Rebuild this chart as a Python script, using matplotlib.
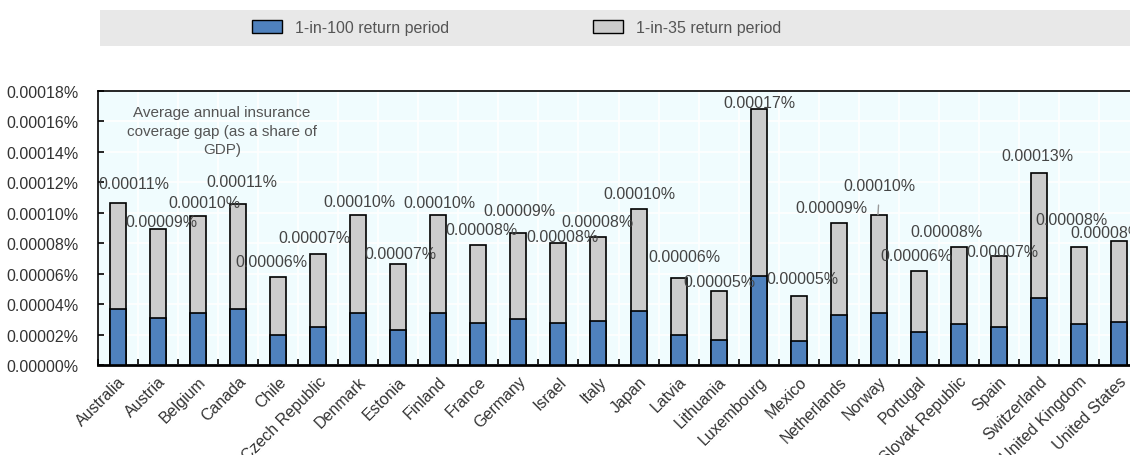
import matplotlib

matplotlib.use("Agg")
import matplotlib.pyplot as plt
import numpy as np
from matplotlib.patches import Patch, Rectangle
from matplotlib.ticker import FuncFormatter, MultipleLocator

plt.rcParams["font.family"] = ["Liberation Sans", "DejaVu Sans"]

# ---- data (share of GDP, in %) ----
countries = [
    "Australia", "Austria", "Belgium", "Canada", "Chile", "Czech Republic",
    "Denmark", "Estonia", "Finland", "France", "Germany", "Israel", "Italy",
    "Japan", "Latvia", "Lithuania", "Luxembourg", "Mexico", "Netherlands",
    "Norway", "Portugal", "Slovak Republic", "Spain", "Switzerland",
    "United Kingdom", "United States",
]
rp35 = np.array([
    10.63, 8.96, 9.77, 10.60, 5.79, 7.26, 9.83, 6.64, 9.83, 7.88, 8.69, 8.03,
    8.38, 10.25, 5.70, 4.84, 16.81, 4.51, 9.33, 9.88, 6.20, 7.72, 7.15, 12.61,
    7.77, 8.12,
]) * 1e-5
rp100 = np.array([
    3.70, 3.10, 3.39, 3.70, 2.00, 2.51, 3.39, 2.33, 3.41, 2.75, 3.01, 2.79,
    2.90, 3.56, 1.98, 1.67, 5.87, 1.56, 3.26, 3.43, 2.16, 2.68, 2.51, 4.40,
    2.71, 2.84,
]) * 1e-5
label_35 = "1-in-35 return period"
label_100 = "1-in-100 return period"
note = "Average annual insurance\ncoverage gap (as a share of\nGDP)"

# where each value label sits (x in category units, y in axis units x1e-5)
label_xy = [
    (0.40, 11.95), (1.075, 9.44), (2.15, 10.69), (3.10, 12.08), (3.825, 6.80),
    (4.90, 8.38), (6.025, 10.76), (7.05, 7.33), (8.025, 10.69), (9.075, 8.91),
    (10.025, 10.17), (11.10, 8.45), (11.975, 9.44), (13.025, 11.29),
    (14.15, 7.13), (15.025, 5.48), (16.025, 17.23), (17.10, 5.68),
    (17.825, 10.36), (19.025, 11.82), (19.95, 7.19), (20.70, 8.78),
    (22.10, 7.46), (22.975, 13.73), (23.825, 9.57), (24.70, 8.71),
]
leader = {19}  # labels joined to their bar by a short line

BLUE = "#4F81BD"
GREY = "#CCCCCC"
BG = "#F0FCFE"
TXT = "#444444"

W, H = 1130, 456
fig = plt.figure(figsize=(W / 100, H / 100), dpi=100)
ax = fig.add_axes([98 / W, 1 - 366 / H, 1041 / W, 274 / H])
ax.set_facecolor(BG)

x = np.arange(len(countries))
ax.bar(x, rp35, width=0.4, color=GREY, edgecolor="black", linewidth=1.2, zorder=3)
ax.bar(x, rp100, width=0.4, color=BLUE, edgecolor="black", linewidth=1.2, zorder=4)

for i, (v, (lx, ly)) in enumerate(zip(rp35, label_xy)):
    txt = f"{v:.5f}%"
    if i in leader:
        ax.annotate(
            txt, xy=(i - 0.02, v), xytext=(lx, ly * 1e-5),
            ha="center", va="center", fontsize=11.5, color=TXT, zorder=6,
            arrowprops=dict(arrowstyle="-", color="#999999", lw=1.0,
                            shrinkA=7, shrinkB=0),
        )
    else:
        ax.text(lx, ly * 1e-5, txt, ha="center", va="center", fontsize=11.5,
                color=TXT, zorder=6)

ax.text(2.6, 15.38e-5, note, ha="center", va="center", fontsize=11,
        color="#555555", linespacing=1.4, zorder=6)

ax.set_xlim(-0.5, len(countries) - 0.5)
ax.set_ylim(0, 0.00018)

ax.yaxis.set_major_locator(MultipleLocator(0.00002))
ax.yaxis.set_major_formatter(FuncFormatter(lambda v, _: f"{v:.5f}%"))
ax.tick_params(axis="y", direction="in", length=4, width=1.2, pad=14,
               labelsize=11.5, labelcolor="#333333")

ax.set_xticks(x)
ax.set_xticklabels(countries, rotation=45, ha="right", va="top",
                   rotation_mode="anchor", fontsize=11.5, color="#333333")
ax.set_xticks(np.arange(-0.5, len(countries), 1.0), minor=True)
ax.tick_params(axis="x", which="major", length=0, pad=6)
ax.tick_params(axis="x", which="minor", direction="in", length=4, width=1.2)

ax.grid(axis="y", which="major", color="white", lw=1.2, zorder=1)
ax.grid(axis="x", which="minor", color="white", lw=1.2, zorder=1)
ax.set_axisbelow(True)

for side in ("left", "top"):
    ax.spines[side].set_linewidth(1.2)
ax.spines["bottom"].set_linewidth(2.0)
ax.spines["right"].set_visible(False)

# legend band across the top
fig.add_artist(Rectangle((100 / W, 1 - 46.5 / H), 1030 / W, 35.5 / H,
                         transform=fig.transFigure, facecolor="#E8E8E8",
                         edgecolor="none", zorder=0))
handles = [
    Patch(facecolor=BLUE, edgecolor="black", linewidth=1.0, label=label_100),
    Patch(facecolor=GREY, edgecolor="black", linewidth=1.0, label=label_35),
]
fig.legend(handles=handles, loc="center left",
           bbox_to_anchor=(252 / W, 1 - 28.5 / H), ncol=2, frameon=False,
           fontsize=11.5, labelcolor="#555555", handlelength=1.9,
           handleheight=0.85, handletextpad=0.8, columnspacing=9.0,
           borderpad=0, borderaxespad=0)

fig.savefig("out.png", dpi=100)
